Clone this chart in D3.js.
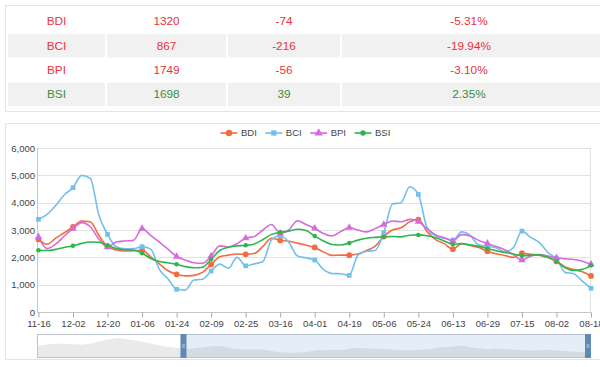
<!DOCTYPE html>
<html><head><meta charset="utf-8">
<script src="https://cdn.jsdelivr.net/npm/d3@7/dist/d3.min.js"></script>
<style>
html,body{margin:0;padding:0;background:#fff;}
svg{display:block;font-family:"Liberation Sans",Arial,Helvetica,sans-serif;}
</style></head><body>
<svg id="c" width="600" height="367"></svg>
<script>
// ---- table data ----
const indexNames = ["BDI", "BCI", "BPI", "BSI"];
const indexValues = [1320, 867, 1749, 1698];
const indexChanges = [-74, -216, -56, 39];
const indexPercents = ["-5.31%", "-19.94%", "-3.10%", "2.35%"];

// ---- chart data ----
const seriesNames = ["BDI", "BCI", "BPI", "BSI"];
const tickLabels = ["11-16","12-02","12-20","01-06","01-24","02-09","02-25","03-16","04-01","04-19","05-06","05-24","06-13","06-29","07-15","08-02","08-18"];
const yTicks = [0, 1000, 2000, 3000, 4000, 5000, 6000];
const samplesPerTick = 4;

const bdi = [2660,2480,2700,2900,3110,3330,3300,2800,2390,2270,2230,2240,2250,2020,1760,1510,1380,1320,1340,1450,1740,2020,2080,2120,2110,2140,2400,2700,2620,2590,2520,2440,2360,2200,2070,2080,2080,2120,2250,2410,2760,3000,3080,3300,3380,2950,2650,2500,2300,2500,2430,2360,2220,2130,2070,2000,2150,2110,2080,1990,1850,1650,1550,1470,1320];
const bci = [3390,3570,3900,4290,4550,5000,4890,3540,2840,2390,2310,2320,2390,2300,1560,1220,830,800,1170,1200,1500,1750,1600,2000,1690,1760,1850,2640,2790,2550,2050,1980,1900,1560,1410,1400,1340,2080,2220,2250,2900,3950,4000,4580,4300,3100,2790,2700,2620,2930,2800,2450,2400,2350,2200,2350,2960,2730,2550,2180,1950,1450,1400,1130,867];
const bpi = [2750,2320,2480,2780,3050,3270,3120,2660,2380,2560,2600,2620,3050,2800,2560,2300,2030,1900,1800,1780,2050,2420,2380,2500,2700,2760,3000,3200,2880,3000,3340,3200,3060,2870,2780,2940,3090,3000,2930,3050,3200,3330,3300,3390,3310,3050,2820,2720,2600,2830,2780,2620,2510,2400,2280,2100,1900,2050,2100,2050,1980,1950,1920,1860,1749];
const bsi = [2260,2250,2290,2360,2420,2510,2560,2550,2440,2320,2280,2270,2150,1960,1850,1800,1745,1660,1620,1640,1930,2250,2370,2420,2440,2490,2650,2840,2920,2960,3030,2980,2780,2600,2470,2450,2520,2630,2700,2730,2750,2760,2750,2810,2820,2790,2720,2600,2480,2500,2460,2400,2320,2240,2180,2120,2060,2070,2090,2000,1860,1620,1520,1560,1698];
// earlier BDI history shown only in the zoom slider shadow
const historyBDI = [3300,3500,3800,4000,3950,3900,3800,3700,3900,4300,4800,5200,5500,5600,5400,5100,4800,4400,4000,3600,3200,2950,2750];

const seriesData = [bdi, bci, bpi, bsi];
const seriesColors = ["#f46b3f", "#72bfee", "#d56bdc", "#2db64a"];
const seriesSymbols = [d3.symbolCircle, d3.symbolSquare, d3.symbolTriangle, d3.symbolCircle];
const symbolSizes = [26, 22, 24, 16];

const svg = d3.select("#c");
const RED = "#e8333b", GREEN = "#3a8f3a";

// ---- table panel ----
const tbl = svg.append("g");
tbl.append("rect").attr("x", 5.5).attr("y", 5.5).attr("width", 600).attr("height", 106)
  .attr("fill", "#fff").attr("stroke", "#e4e4e4");
const colX = [8, 107, 228, 342];
const colW = [97, 119, 112, 262];
const rowY = d3.range(4).map(r => 9.5 + r * 24.4);
indexNames.forEach((name, r) => {
  const color = indexChanges[r] < 0 ? RED : GREEN;
  const cells = [name, String(indexValues[r]), String(indexChanges[r]), indexPercents[r]];
  cells.forEach((txt, c) => {
    if (r % 2 === 1) {
      tbl.append("rect").attr("x", colX[c]).attr("y", rowY[r]).attr("width", colW[c]).attr("height", 23.5)
        .attr("fill", "#f1f1f1");
    }
    tbl.append("text").attr("x", colX[c] + colW[c] / 2 + (c === 3 ? -4 : 0)).attr("y", rowY[r] + 11.5)
      .attr("dy", "0.35em").attr("text-anchor", "middle").attr("font-size", 11.8)
      .attr("fill", color).text(txt);
  });
});

// ---- chart panel ----
svg.append("rect").attr("x", 5.5).attr("y", 123.5).attr("width", 600).attr("height", 236)
  .attr("fill", "#fff").attr("stroke", "#e4e4e4");

const plot = {left: 37, right: 591, top: 148, bottom: 312};
const n = bdi.length;
const x = d3.scaleLinear().domain([-0.17, n - 1]).range([plot.left, plot.right]);
const y = d3.scaleLinear().domain([0, 6000]).range([plot.bottom, plot.top]);

const g = svg.append("g");
// grid
g.selectAll("line.grid").data(yTicks).join("line")
  .attr("x1", plot.left).attr("x2", plot.right)
  .attr("y1", d => Math.round(y(d)) + 0.5).attr("y2", d => Math.round(y(d)) + 0.5)
  .attr("stroke", d => d === 0 ? "#c8c8c8" : "#e2e2e2");
g.append("line").attr("x1", plot.right - 0.5).attr("x2", plot.right - 0.5)
  .attr("y1", plot.top).attr("y2", plot.bottom).attr("stroke", "#e2e2e2");
g.append("line").attr("x1", plot.left + 0.5).attr("x2", plot.left + 0.5)
  .attr("y1", plot.top).attr("y2", plot.bottom).attr("stroke", "#c8c8c8");

// y axis labels
const yAxis = d3.axisLeft(y).tickValues(yTicks).tickSize(0).tickPadding(2)
  .tickFormat(d3.format(","));
const yg = g.append("g").attr("transform", `translate(${plot.left},0)`).call(yAxis);
yg.select(".domain").remove();
yg.selectAll("text").attr("font-size", 9.5).attr("fill", "#444")
  .attr("font-family", '"Liberation Sans",Arial,sans-serif');

// x axis
const tickIdx = tickLabels.map((_, k) => k * samplesPerTick);
const xAxis = d3.axisBottom(x).tickValues(tickIdx).tickSize(5).tickPadding(3)
  .tickFormat((d, k) => tickLabels[k]);
const xg = g.append("g").attr("transform", `translate(0,${plot.bottom + 0.5})`).call(xAxis);
xg.select(".domain").remove();
xg.selectAll(".tick line").attr("stroke", "#aaa");
xg.selectAll("text").attr("font-size", 9.5).attr("fill", "#444")
  .attr("font-family", '"Liberation Sans",Arial,sans-serif');

// clip
svg.append("clipPath").attr("id", "clip").append("rect")
  .attr("x", plot.left).attr("y", plot.top - 10).attr("width", plot.right - plot.left + 6)
  .attr("height", plot.bottom - plot.top + 10);

const line = d3.line().x((d, i) => x(i)).y(d => y(d)).curve(d3.curveMonotoneX);
const lines = svg.append("g").attr("clip-path", "url(#clip)");
seriesData.forEach((data, s) => {
  lines.append("path").datum(data).attr("d", line).attr("fill", "none")
    .attr("stroke", seriesColors[s]).attr("stroke-width", 1.6).attr("stroke-linejoin", "round");
});
seriesData.forEach((data, s) => {
  const sym = d3.symbol().type(seriesSymbols[s]).size(symbolSizes[s]);
  svg.append("g").selectAll("path").data(tickIdx).join("path")
    .attr("transform", i => `translate(${x(i)},${y(data[i])})`)
    .attr("d", sym).attr("fill", seriesColors[s]);
});

// legend
const legend = svg.append("g");
let lx = 220.5;
seriesNames.forEach((name, s) => {
  const cy = 133;
  const it = legend.append("g");
  it.append("line").attr("x1", lx).attr("x2", lx + 17).attr("y1", cy).attr("y2", cy)
    .attr("stroke", seriesColors[s]).attr("stroke-width", 1.6);
  it.append("path").attr("transform", `translate(${lx + 8.5},${cy})`)
    .attr("d", d3.symbol().type(seriesSymbols[s]).size(symbolSizes[s] + 6)()).attr("fill", seriesColors[s]);
  const t = it.append("text").attr("x", lx + 20.5).attr("y", cy).attr("dy", "0.35em")
    .attr("font-size", 9.5).attr("fill", "#444").text(name);
  lx = lx + 20.5 + t.node().getComputedTextLength() + 8.5;
});

// ---- data zoom slider ----
const sl = {left: 37, right: 591, top: 334, bottom: 357};
const overview = historyBDI.concat(bdi);
const sx = d3.scaleLinear().domain([0, overview.length - 1]).range([sl.left, sl.right]);
const ext = d3.extent(overview);
const pad = (ext[1] - ext[0]) * 0.3;
const sy = d3.scaleLinear().domain([ext[0] - pad, ext[1] + pad]).range([sl.bottom, sl.top]);
const startX = sx(historyBDI.length);
const zg = svg.append("g");
zg.append("rect").attr("x", startX).attr("y", sl.top).attr("width", sl.right - startX)
  .attr("height", sl.bottom - sl.top).attr("fill", "#e3eef8");
const area = d3.area().x((d, i) => sx(i)).y0(sl.bottom).y1(d => sy(d)).curve(d3.curveMonotoneX);
zg.append("path").datum(overview).attr("d", area).attr("fill", "rgba(140,140,140,0.18)");
zg.append("rect").attr("x", sl.left + 0.5).attr("y", sl.top + 0.5).attr("width", sl.right - sl.left - 1)
  .attr("height", sl.bottom - sl.top).attr("fill", "none").attr("stroke", "#b9c4d0");
[startX, sl.right - 3].forEach(hx => {
  zg.append("rect").attr("x", hx - 3).attr("y", sl.top).attr("width", 6).attr("height", sl.bottom - sl.top + 1)
    .attr("fill", "#5f8ab4");
  zg.append("line").attr("x1", hx - 1.5).attr("x2", hx + 1.5).attr("y1", (sl.top + sl.bottom) / 2 - 0.5)
    .attr("y2", (sl.top + sl.bottom) / 2 - 0.5).attr("stroke", "#cfe0f0").attr("stroke-width", 0.8);
  zg.append("line").attr("x1", hx - 1.5).attr("x2", hx + 1.5).attr("y1", (sl.top + sl.bottom) / 2 + 1.5)
    .attr("y2", (sl.top + sl.bottom) / 2 + 1.5).attr("stroke", "#cfe0f0").attr("stroke-width", 0.8);
});
</script>
</body></html>
